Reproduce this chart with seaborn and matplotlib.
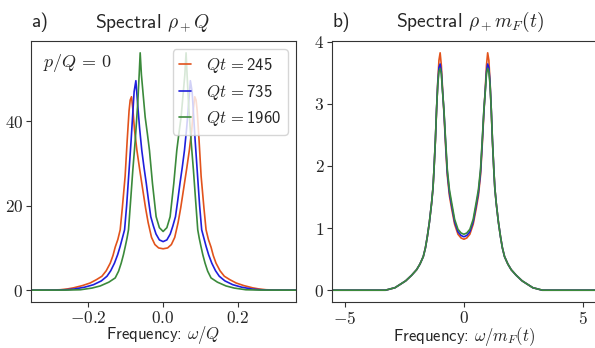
import pandas as pd
import matplotlib
matplotlib.use("Agg")
import matplotlib.pyplot as plt
import seaborn as sns

# ---- data ----
qt_labels = ['245', '735', '1960']
colors = ['#e2531c', '#1f1fdc', '#3b8a3b']

# panel a) spectral rho_+ Q vs omega/Q
xa_245 = [-0.40, -0.30, -0.275, -0.255, -0.239, -0.215, -0.195, -0.178, -0.1635, -0.152, -0.1413,
          -0.134, -0.128, -0.121, -0.1147, -0.109, -0.1015, -0.096, -0.091, -0.088, -0.0845, -0.081,
          -0.0765, -0.070, -0.063, -0.057, -0.047, -0.040, -0.031, -0.022, -0.012, 0.0,
          0.012, 0.022, 0.031, 0.040, 0.047, 0.057, 0.063, 0.070, 0.0765, 0.081, 0.0845, 0.088,
          0.091, 0.096, 0.1015, 0.109, 0.1147, 0.121, 0.128, 0.134, 0.1413, 0.152, 0.1635, 0.178,
          0.195, 0.215, 0.239, 0.255, 0.275, 0.30, 0.40]
ya_245 = [0, 0.03, 0.1, 0.3, 0.56, 1.1, 1.7, 2.5, 3.3, 4.6, 6.4,
          8.2, 10.2, 12.0, 14.3, 19.5, 27, 35.5, 42.5, 45, 45.8, 43,
          38, 33.1, 28.8, 25.3, 19.5, 16.0, 12.5, 10.8, 10.0, 9.8,
          10.0, 10.8, 12.5, 16.0, 19.5, 25.3, 28.8, 33.1, 38, 43, 45.8, 45,
          42.5, 35.5, 27, 19.5, 14.3, 12.0, 10.2, 8.2, 6.4, 4.6, 3.3, 2.5,
          1.7, 1.1, 0.56, 0.3, 0.1, 0.03, 0]

xa_735 = [-0.40, -0.28, -0.26, -0.239, -0.21, -0.186, -0.165, -0.150, -0.140, -0.130, -0.1215,
          -0.1147, -0.109, -0.103, -0.0975, -0.091, -0.0855, -0.081, -0.0775, -0.0728, -0.068,
          -0.063, -0.057, -0.051, -0.045, -0.039, -0.033, -0.026, -0.019, -0.010, 0.0,
          0.010, 0.019, 0.026, 0.033, 0.039, 0.045, 0.051, 0.057, 0.063, 0.068, 0.0728, 0.0775,
          0.081, 0.0855, 0.091, 0.0975, 0.103, 0.109, 0.1147, 0.1215, 0.130, 0.140, 0.150, 0.165,
          0.186, 0.21, 0.239, 0.26, 0.28, 0.40]
ya_735 = [0, 0.02, 0.1, 0.25, 0.7, 1.3, 2.2, 3.3, 4.6, 6.4, 8.4,
          10.4, 12.3, 14.3, 20, 28.4, 35.5, 42, 47, 49.6, 44,
          38.5, 33.1, 29, 25.3, 21.2, 17.4, 15.2, 13.3, 11.9, 11.5,
          11.9, 13.3, 15.2, 17.4, 21.2, 25.3, 29, 33.1, 38.5, 44, 49.6, 47,
          42, 35.5, 28.4, 20, 14.3, 12.3, 10.4, 8.4, 6.4, 4.6, 3.3, 2.2,
          1.3, 0.7, 0.25, 0.1, 0.02, 0]

xa_1960 = [-0.40, -0.26, -0.221, -0.19, -0.168, -0.145, -0.128, -0.119, -0.112, -0.106, -0.101,
           -0.0965, -0.0925, -0.087, -0.081, -0.0745, -0.068, -0.064, -0.0613, -0.058, -0.055,
           -0.048, -0.042, -0.0365, -0.0285, -0.0187, -0.010, 0.0,
           0.010, 0.0187, 0.0285, 0.0365, 0.042, 0.048, 0.055, 0.058, 0.0613, 0.064, 0.068,
           0.0745, 0.081, 0.087, 0.0925, 0.0965, 0.101, 0.106, 0.112, 0.119, 0.128, 0.145,
           0.168, 0.19, 0.221, 0.26, 0.40]
ya_1960 = [0, 0.02, 0.1, 0.5, 1.0, 1.9, 2.9, 4.5, 6.4, 8.4, 10.4,
           12.3, 14.3, 21, 28.4, 35.5, 44, 51, 56.2, 51, 48,
           41, 37, 33.1, 25.3, 17.4, 14.8, 13.9,
           14.8, 17.4, 25.3, 33.1, 37, 41, 48, 51, 56.2, 51, 44,
           35.5, 28.4, 21, 14.3, 12.3, 10.4, 8.4, 6.4, 4.5, 2.9, 1.9,
           1.0, 0.5, 0.1, 0.02, 0]

# panel b) spectral rho_+ m_F vs omega/m_F
xb = [-6.0, -3.3, -2.9, -2.45, -2.2, -1.99, -1.85, -1.71, -1.62, -1.54, -1.45, -1.36, -1.30,
      -1.26, -1.20, -1.15, -1.10, -1.05, -1.0, -0.95, -0.90, -0.84, -0.77, -0.70, -0.61, -0.52,
      -0.39, -0.25, -0.12, 0.0,
      0.12, 0.25, 0.39, 0.52, 0.61, 0.70, 0.77, 0.84, 0.90, 0.95, 1.0, 1.05, 1.10, 1.15, 1.20,
      1.26, 1.30, 1.36, 1.45, 1.54, 1.62, 1.71, 1.85, 1.99, 2.2, 2.45, 2.9, 3.3, 6.0]
yb_245 = [0, 0, 0.04, 0.15, 0.24, 0.33, 0.42, 0.54, 0.68, 0.86, 1.10, 1.40, 1.65,
          1.93, 2.40, 2.90, 3.35, 3.70, 3.82, 3.62, 3.25, 2.85, 2.32, 1.85, 1.52, 1.32,
          1.06, 0.90, 0.84, 0.82,
          0.84, 0.90, 1.06, 1.32, 1.52, 1.85, 2.32, 2.85, 3.25, 3.62, 3.82, 3.70, 3.35, 2.90, 2.40,
          1.93, 1.65, 1.40, 1.10, 0.86, 0.68, 0.54, 0.42, 0.33, 0.24, 0.15, 0.04, 0, 0]
yb_735 = [0, 0, 0.04, 0.15, 0.24, 0.33, 0.42, 0.54, 0.68, 0.86, 1.10, 1.40, 1.65,
          1.93, 2.42, 2.92, 3.33, 3.58, 3.64, 3.52, 3.22, 2.88, 2.37, 1.90, 1.57, 1.37,
          1.10, 0.94, 0.88, 0.86,
          0.88, 0.94, 1.10, 1.37, 1.57, 1.90, 2.37, 2.88, 3.22, 3.52, 3.64, 3.58, 3.33, 2.92, 2.42,
          1.93, 1.65, 1.40, 1.10, 0.86, 0.68, 0.54, 0.42, 0.33, 0.24, 0.15, 0.04, 0, 0]
yb_1960 = [0, 0, 0.04, 0.15, 0.24, 0.33, 0.42, 0.54, 0.68, 0.86, 1.10, 1.40, 1.65,
           1.93, 2.42, 2.92, 3.30, 3.52, 3.57, 3.48, 3.20, 2.90, 2.41, 1.95, 1.62, 1.42,
           1.14, 0.98, 0.92, 0.90,
           0.92, 0.98, 1.14, 1.42, 1.62, 1.95, 2.41, 2.90, 3.20, 3.48, 3.57, 3.52, 3.30, 2.92, 2.42,
           1.93, 1.65, 1.40, 1.10, 0.86, 0.68, 0.54, 0.42, 0.33, 0.24, 0.15, 0.04, 0, 0]

xa_ticks = [-0.2, 0.0, 0.2]
xa_ticklabels = [r'$-0.2$', r'$0.0$', r'$0.2$']
ya_ticks = [0, 20, 40]
xb_ticks = [-5, 0, 5]
yb_ticks = [0, 1, 2, 3, 4]

sns.set_style('ticks')
plt.rcParams['mathtext.fontset'] = 'cm'
plt.rcParams['font.family'] = ['cmss10', 'DejaVu Sans']
plt.rcParams['axes.unicode_minus'] = False

df_a = pd.concat([
    pd.DataFrame({'x': xa_245, 'y': ya_245, 'Qt': '245'}),
    pd.DataFrame({'x': xa_735, 'y': ya_735, 'Qt': '735'}),
    pd.DataFrame({'x': xa_1960, 'y': ya_1960, 'Qt': '1960'}),
])
df_b = pd.concat([
    pd.DataFrame({'x': xb, 'y': yb_245, 'Qt': '245'}),
    pd.DataFrame({'x': xb, 'y': yb_735, 'Qt': '735'}),
    pd.DataFrame({'x': xb, 'y': yb_1960, 'Qt': '1960'}),
])
pal = dict(zip(qt_labels, colors))

fig = plt.figure(figsize=(5.95, 3.48), dpi=100)
ax1 = fig.add_axes([31 / 595, 46 / 348, 265 / 595, 261 / 348])
ax2 = fig.add_axes([332 / 595, 46 / 348, 265 / 595, 261 / 348])

sns.lineplot(data=df_a, x='x', y='y', hue='Qt', palette=pal, hue_order=qt_labels,
             estimator=None, sort=False, lw=1.2, ax=ax1)
sns.lineplot(data=df_b, x='x', y='y', hue='Qt', palette=pal, hue_order=qt_labels,
             estimator=None, sort=False, lw=1.2, ax=ax2, legend=False)

ax1.set_xlim(-0.353, 0.355)
ax1.set_ylim(-2.8, 59.0)
ax2.set_xlim(-5.55, 5.6)
ax2.set_ylim(-0.19, 4.01)

ax1.set_xticks(xa_ticks)
ax1.set_xticklabels(xa_ticklabels)
ax1.set_yticks(ya_ticks)
ax1.set_yticklabels([f'${v}$' for v in ya_ticks])
ax2.set_xticks(xb_ticks)
ax2.set_xticklabels([f'${v}$' for v in xb_ticks])
ax2.set_yticks(yb_ticks)
ax2.set_yticklabels([f'${v}$' for v in yb_ticks])

for ax in (ax1, ax2):
    ax.tick_params(labelsize=12.5, length=3.5, pad=2, color='#333333')
    ax.set_ylabel('')
    for s in ax.spines.values():
        s.set_color('#333333')

ax1.set_xlabel(r'Frequency: $\omega/Q$', fontsize=12, labelpad=-1)
ax2.set_xlabel(r'Frequency: $\omega/m_F(t)$', fontsize=12, labelpad=-1.5)

ax1.text(0.0, 1.052, 'a)', transform=ax1.transAxes, fontsize=14, va='baseline')
ax1.text(0.24, 1.052, r'Spectral $\rho_+Q$', transform=ax1.transAxes, fontsize=14, va='baseline')
ax2.text(0.0, 1.052, 'b)', transform=ax2.transAxes, fontsize=14, va='baseline')
ax2.text(0.24, 1.052, r'Spectral $\rho_+m_F(t)$', transform=ax2.transAxes, fontsize=14, va='baseline')

ax1.text(0.045, 0.9, r'$p/Q\,=\,0$', transform=ax1.transAxes, fontsize=13, va='baseline')

handles, _ = ax1.get_legend_handles_labels()
ax1.legend(handles, [r'$Qt\,=$' + q for q in qt_labels], loc='upper right', fontsize=12,
           handlelength=0.7, handletextpad=0.9, borderaxespad=0.5, labelspacing=0.45)

fig.savefig('out.png', dpi=100)
